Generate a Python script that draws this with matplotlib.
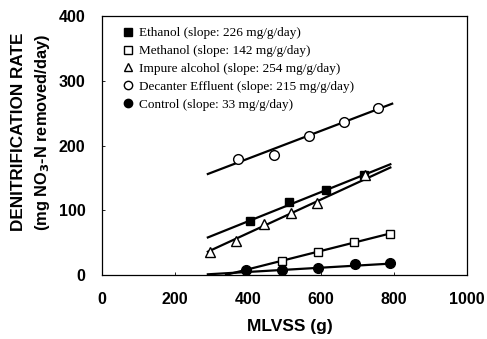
import matplotlib
matplotlib.use("Agg")
import matplotlib.pyplot as plt
from matplotlib.lines import Line2D

# ---- data ----
series_names = ["Ethanol", "Methanol", "Impure alcohol", "Decanter Effluent", "Control"]
slopes_label = [226, 142, 254, 215, 33]

eth_x = [405, 512, 615, 719]
eth_y = [83, 112, 131, 154]
meth_x = [493, 591, 690, 790]
meth_y = [22, 36, 51, 63]
imp_x = [295, 368, 445, 517, 590, 720]
imp_y = [36, 53, 79, 96, 111, 154]
dec_x = [373, 472, 566, 663, 757]
dec_y = [179, 185, 215, 236, 258]
ctl_x = [394, 494, 591, 693, 790]
ctl_y = [7, 8, 11, 17, 18]

# fitted lines: (x_start, x_end, slope per g, intercept)
fit_eth = (290, 790, 0.226, 58 - 0.226 * 290)
fit_meth = (340, 795, 0.142, -48)
fit_imp = (290, 790, 0.26, 36 - 0.26 * 290)
fit_dec = (290, 795, 0.215, 156 - 0.215 * 290)
fit_ctl = (290, 795, 0.033, -8.5)

xticks = [0, 200, 400, 600, 800, 1000]
yticks = [0, 100, 200, 300, 400]

fig = plt.figure(figsize=(4.87, 3.39), dpi=100)
ax = fig.add_axes([102 / 487, 64 / 339, 365 / 487, 259 / 339])

def fitline(f):
    x0, x1, m, b = f
    ax.plot([x0, x1], [m * x0 + b, m * x1 + b], color="black", lw=1.6, zorder=2)

for f in [fit_eth, fit_meth, fit_imp, fit_dec, fit_ctl]:
    fitline(f)

ms = 6
ax.plot(eth_x, eth_y, "s", color="black", ms=ms, zorder=3)
ax.plot(meth_x, meth_y, "s", mfc="white", mec="black", mew=1.0, ms=ms, zorder=3)
ax.plot(imp_x, imp_y, "^", mfc="white", mec="black", mew=1.0, ms=ms + 1, zorder=3)
ax.plot(dec_x, dec_y, "o", mfc="white", mec="black", mew=1.0, ms=ms + 1, zorder=3)
ax.plot(ctl_x, ctl_y, "o", color="black", ms=ms + 1, zorder=3)

ax.set_xlim(0, 1000)
ax.set_ylim(0, 400)
ax.set_xticks(xticks)
ax.set_yticks(yticks)
ax.tick_params(direction="in", length=2, width=0.6, pad=12, labelsize=11.5)
for lab in ax.get_xticklabels() + ax.get_yticklabels():
    lab.set_fontweight("bold")
    lab.set_family("Liberation Sans")
for s in ax.spines.values():
    s.set_linewidth(0.9)

ax.set_xlabel("MLVSS (g)", fontsize=12.5, fontweight="bold", family="Liberation Sans", labelpad=8)
ax.xaxis.set_label_coords(0.514, -0.17)

fig.text(0.037, 0.61, "DENITRIFICATION RATE", rotation=90, ha="center", va="center",
         fontsize=12.3, fontweight="bold", family="Liberation Sans")
fig.text(0.088, 0.61, r"(mg NO$_\mathbf{3}$-N removed/day)", rotation=90, ha="center", va="center",
         fontsize=11.8, fontweight="bold", family="Liberation Sans")

handles = [
    Line2D([], [], ls="none", marker="s", color="black", ms=6),
    Line2D([], [], ls="none", marker="s", mfc="white", mec="black", ms=6),
    Line2D([], [], ls="none", marker="^", mfc="white", mec="black", ms=6),
    Line2D([], [], ls="none", marker="o", mfc="white", mec="black", ms=6),
    Line2D([], [], ls="none", marker="o", color="black", ms=6),
]
labels = [f"{n} (slope: {s} mg/g/day)" for n, s in zip(series_names, slopes_label)]
ax.legend(handles, labels, loc="upper left", frameon=False, prop={"family": "Liberation Serif", "size": 9.5},
          handlelength=0.6, handletextpad=0.55, labelspacing=0.42, borderaxespad=0.45,
          bbox_to_anchor=(0.03, 1.0))

fig.savefig("out.png", dpi=100)
